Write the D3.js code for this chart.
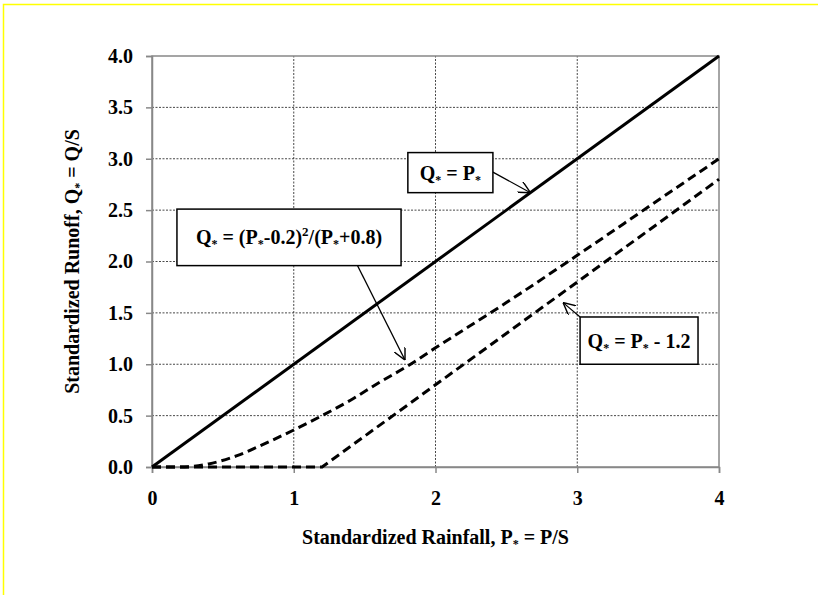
<!DOCTYPE html>
<html>
<head>
<meta charset="utf-8">
<script src="https://cdn.jsdelivr.net/npm/d3@7"></script>
<style>
  body { margin: 0; background: #fff; }
  svg text { font-family: "Liberation Serif", "Times New Roman", serif; font-weight: bold; fill: #000; }
</style>
</head>
<body>
<div id="chart"></div>
<script>
// values
const rainfall = [0, 0.2, 0.4, 0.6, 0.8, 1.0, 1.2, 1.4, 1.6, 1.8, 2.0, 2.5, 3.0, 3.5, 4.0];
const runoffCurve = [0, 0, 0.03, 0.11, 0.23, 0.36, 0.5, 0.65, 0.82, 0.98, 1.16, 1.6, 2.06, 2.53, 3.0];
const equalP = [0, 4];
const equalQ = [0, 4];
const offsetP = [0, 1.2, 4];
const offsetQ = [0, 0, 2.8];
const xTicks = [0, 1, 2, 3, 4];
const yTicks = [0, 0.5, 1, 1.5, 2, 2.5, 3, 3.5, 4];

const width = 818, height = 595;
const margin = { left: 152, right: 99, top: 56, bottom: 128 };

const svg = d3.select("#chart").append("svg")
  .attr("width", width)
  .attr("height", height);

// yellow frame
svg.append("rect")
  .attr("x", 3.5).attr("y", 4.5)
  .attr("width", width + 10).attr("height", height + 10)
  .attr("fill", "none").attr("stroke", "#ffff00").attr("stroke-width", 1.5);

const xScale = d3.scaleLinear().domain([0, 4]).range([margin.left, width - margin.right]);
const yScale = d3.scaleLinear().domain([0, 4]).range([height - margin.bottom, margin.top]);

const defs = svg.append("defs");
defs.append("marker")
  .attr("id", "arrow")
  .attr("viewBox", "0 0 10 10")
  .attr("refX", 10).attr("refY", 5)
  .attr("markerWidth", 12).attr("markerHeight", 12)
  .attr("markerUnits", "userSpaceOnUse")
  .attr("orient", "auto")
  .append("path")
  .attr("d", "M 0 0 L 10 5 L 0 10")
  .attr("fill", "none").attr("stroke", "#000").attr("stroke-width", 1.2);

// gridlines
svg.append("g").selectAll("line")
  .data(yTicks.filter(d => d > 0 && d < 4))
  .enter().append("line")
  .attr("x1", xScale(0)).attr("x2", xScale(4))
  .attr("y1", d => yScale(d)).attr("y2", d => yScale(d))
  .attr("stroke", "#333").attr("stroke-width", 0.9).attr("stroke-dasharray", "2,1.5");
svg.append("g").selectAll("line")
  .data(xTicks.filter(d => d > 0 && d < 4))
  .enter().append("line")
  .attr("y1", yScale(0)).attr("y2", yScale(4))
  .attr("x1", d => xScale(d)).attr("x2", d => xScale(d))
  .attr("stroke", "#333").attr("stroke-width", 0.9).attr("stroke-dasharray", "2,1.5");

// plot frame
svg.append("rect")
  .attr("x", xScale(0)).attr("y", yScale(4))
  .attr("width", xScale(4) - xScale(0)).attr("height", yScale(0) - yScale(4))
  .attr("fill", "none").attr("stroke", "#888").attr("stroke-width", 1.5);

// axes
const xAxis = d3.axisBottom(xScale).tickValues(xTicks).tickFormat(d3.format("d")).tickSize(6).tickPadding(18);
const gx = svg.append("g")
  .attr("transform", `translate(0,${yScale(0)})`)
  .call(xAxis);
gx.select(".domain").attr("stroke", "#888").attr("stroke-width", 1.5);
gx.selectAll(".tick line").attr("stroke", "#888").attr("stroke-width", 1.5);
gx.selectAll("text").style("font-size", "20px").attr("fill", "#000");

const yAxis = d3.axisLeft(yScale).tickValues(yTicks).tickFormat(d3.format(".1f")).tickSize(6).tickPadding(13);
const gy = svg.append("g")
  .attr("transform", `translate(${xScale(0)},0)`)
  .call(yAxis);
gy.select(".domain").attr("stroke", "#888").attr("stroke-width", 1.5);
gy.selectAll(".tick line").attr("stroke", "#888").attr("stroke-width", 1.5);
gy.selectAll("text").style("font-size", "20px").attr("fill", "#000");

// axis titles
const xt = svg.append("text")
  .attr("x", xScale(2)).attr("y", 544)
  .attr("text-anchor", "middle")
  .style("font-size", "20px");
xt.append("tspan").text("Standardized Rainfall, P");
xt.append("tspan").text("*").style("font-size", "12px").attr("dy", 4);
xt.append("tspan").text(" = P/S").attr("dy", -4);

const yt = svg.append("text")
  .attr("transform", `translate(79,${yScale(2)}) rotate(-90)`)
  .attr("text-anchor", "middle")
  .style("font-size", "20px");
yt.append("tspan").text("Standardized Runoff, Q");
yt.append("tspan").text("*").style("font-size", "12px").attr("dy", 4);
yt.append("tspan").text(" = Q/S").attr("dy", -4);

// series
const line = d3.line().x(d => xScale(d[0])).y(d => yScale(d[1]));

svg.append("path")
  .datum(d3.zip(equalP, equalQ))
  .attr("d", line)
  .attr("fill", "none").attr("stroke", "#000").attr("stroke-width", 3);

svg.append("path")
  .datum(d3.zip(rainfall, runoffCurve))
  .attr("d", d3.line().x(d => xScale(d[0])).y(d => yScale(d[1])).curve(d3.curveMonotoneX))
  .attr("fill", "none").attr("stroke", "#000").attr("stroke-width", 3)
  .attr("stroke-dasharray", "9,5");

svg.append("path")
  .datum(d3.zip(offsetP, offsetQ))
  .attr("d", line)
  .attr("fill", "none").attr("stroke", "#000").attr("stroke-width", 3)
  .attr("stroke-dasharray", "9,5");

// annotations (in data units)
const notes = [
  { x0: 1.805, x1: 2.405, y0: 3.06, y1: 2.67, from: [2.405, 2.87], to: [2.67, 2.67],
    parts: [["Q", 0], ["*", 1], [" = P", 0], ["*", 1]] },
  { x0: 0.176, x1: 1.757, y0: 2.51, y1: 1.96, from: [1.45, 1.96], to: [1.785, 1.04],
    parts: [["Q", 0], ["*", 1], [" = (P", 0], ["*", 1], ["-0.2)", 0], ["2", 2], ["/(P", 0], ["*", 1], ["+0.8)", 0]] },
  { x0: 3.02, x1: 3.852, y0: 1.46, y1: 1.0, from: [3.02, 1.46], to: [2.9, 1.6],
    parts: [["Q", 0], ["*", 1], [" = P", 0], ["*", 1], [" - 1.2", 0]] }
];

notes.forEach(n => {
  svg.append("line")
    .attr("x1", xScale(n.from[0])).attr("y1", yScale(n.from[1]))
    .attr("x2", xScale(n.to[0])).attr("y2", yScale(n.to[1]))
    .attr("stroke", "#000").attr("stroke-width", 1.2)
    .attr("marker-end", "url(#arrow)");
  svg.append("rect")
    .attr("x", xScale(n.x0)).attr("y", yScale(n.y0))
    .attr("width", xScale(n.x1) - xScale(n.x0)).attr("height", yScale(n.y1) - yScale(n.y0))
    .attr("fill", "#fff").attr("stroke", "#000").attr("stroke-width", 1.5);
  const t = svg.append("text")
    .attr("x", (xScale(n.x0) + xScale(n.x1)) / 2)
    .attr("y", (yScale(n.y0) + yScale(n.y1)) / 2 + 7)
    .attr("text-anchor", "middle")
    .style("font-size", "20px");
  let shift = 0;
  n.parts.forEach(([s, k]) => {
    const target = k === 1 ? 4 : k === 2 ? -8 : 0;
    t.append("tspan")
      .text(s)
      .style("font-size", k === 1 ? "12px" : k === 2 ? "13px" : "20px")
      .attr("dy", target - shift);
    shift = target;
  });
});
</script>
</body>
</html>
